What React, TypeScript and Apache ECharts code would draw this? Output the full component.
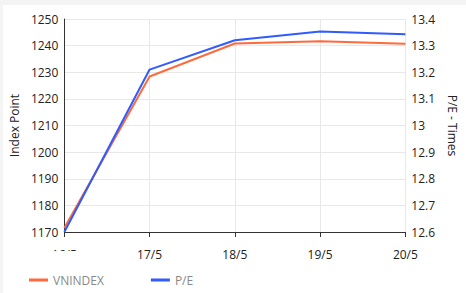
import React, { useEffect, useRef } from "react";
import * as echarts from "echarts";

const categories = ["16/5", "17/5", "18/5", "19/5", "20/5"];
const vnindex = [1171.5, 1228.4, 1240.8, 1241.6, 1240.7];
const pe = [12.6, 13.21, 13.32, 13.353, 13.343];

export default function App() {
  const ref = useRef<HTMLDivElement>(null);
  useEffect(() => {
    const chart = echarts.init(ref.current!, null, { renderer: "svg" });
    const font = "'Open Sans', sans-serif";
    chart.setOption({
      animation: false,
      backgroundColor: "#ffffff",
      textStyle: { fontFamily: font },
      grid: { left: 63, right: 52, top: 19, bottom: 61 },
      legend: {
        left: 24,
        bottom: 2,
        itemWidth: 19,
        itemHeight: 3,
        itemGap: 47,
        icon: "rect",
        textStyle: { color: "#888", fontSize: 12, fontFamily: font },
        data: ["VNINDEX", "P/E"],
      },
      xAxis: {
        type: "category",
        data: categories,
        boundaryGap: false,
        axisLine: { lineStyle: { color: "#333", width: 1 } },
        axisTick: { show: true, length: 5, lineStyle: { color: "#333" } },
        axisLabel: { color: "#222", fontSize: 12, margin: 16, fontFamily: font },
        splitLine: { show: true, lineStyle: { color: "#e8e8e8" } },
      },
      yAxis: [
        {
          type: "value",
          min: 1170,
          max: 1250,
          interval: 10,
          name: "Index Point",
          nameLocation: "middle",
          nameGap: 41,
          nameTextStyle: { color: "#222", fontSize: 12, fontFamily: font },
          axisLine: { show: true, lineStyle: { color: "#333" } },
          axisTick: { show: false },
          axisLabel: {
            color: "#222",
            fontSize: 12,
            margin: 6,
            fontFamily: font,
            formatter: (v: number) => String(Math.round(v)),
          },
          splitLine: { show: true, lineStyle: { color: "#e8e8e8" } },
        },
        {
          type: "value",
          min: 12.6,
          max: 13.4,
          interval: 0.1,
          name: "P/E - Times",
          nameLocation: "middle",
          nameRotate: -90,
          nameGap: 40,
          nameTextStyle: { color: "#222", fontSize: 12, fontFamily: font },
          axisLine: { show: false },
          axisTick: { show: false },
          axisLabel: {
            color: "#222",
            fontSize: 12,
            margin: 6,
            fontFamily: font,
            formatter: (v: number) => String(Math.round(v * 10) / 10),
          },
          splitLine: { show: false },
        },
      ],
      series: [
        {
          name: "VNINDEX",
          type: "line",
          data: vnindex,
          yAxisIndex: 0,
          symbol: "none",
          lineStyle: { color: "#ff6a3d", width: 2 },
          itemStyle: { color: "#ff6a3d" },
        },
        {
          name: "P/E",
          type: "line",
          data: pe,
          yAxisIndex: 1,
          symbol: "none",
          lineStyle: { color: "#2f5bff", width: 2 },
          itemStyle: { color: "#2f5bff" },
        },
      ],
      graphic: [
        { type: "rect", left: 0, top: 0, shape: { width: 466, height: 5 }, style: { fill: "#f4f4f4" }, z: 100 },
        { type: "rect", left: 0, top: 0, shape: { width: 3, height: 293 }, style: { fill: "#f4f4f4" }, z: 100 },
        { type: "rect", left: 40, top: 251, shape: { width: 45, height: 12 }, style: { fill: "#ffffff" }, z: 100 },
      ],
    });
    return () => chart.dispose();
  }, []);
  return <div ref={ref} style={{ width: 466, height: 293, position: "absolute", left: 0, top: 0 }} />;
}
